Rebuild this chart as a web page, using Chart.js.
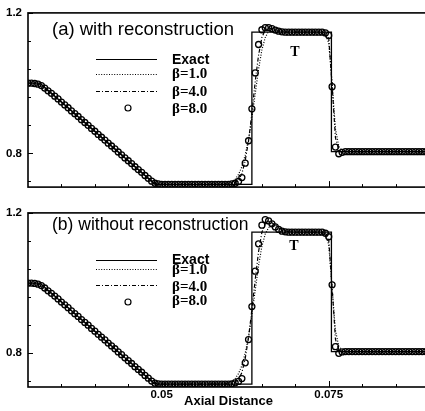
<!DOCTYPE html>
<html>
<head>
<meta charset="utf-8">
<script src="https://cdn.jsdelivr.net/npm/chart.js@4/dist/chart.umd.min.js"></script>
<style>
  html, body { margin: 0; padding: 0; background: #fff; }
  #wrap { position: relative; width: 425px; height: 411px; overflow: hidden; background: #fff; }
  #wrap canvas { position: absolute; left: 0; }
  #panelA { top: 0; }
  #panelB { top: 200px; }
</style>
</head>
<body>
<div id="wrap">
  <canvas id="panelA" width="440" height="200"></canvas>
  <canvas id="panelB" width="440" height="211"></canvas>
</div>
<script>
// Sampling grid of the computed solutions (axial distance)
const gridStart = 0.03;
const gridStep = 0.0005;

// Exact temperature profile (corner points)
const exactX = [0.03, 0.0318, 0.049, 0.0635, 0.0635, 0.0754, 0.0754, 0.09];
const exactT = [1.000, 1.000, 0.712, 0.712, 1.145, 1.145, 0.805, 0.805];

// (a) with reconstruction
const tA_beta1 = [
  1.000,1.000,0.998,0.995,0.990,0.984,0.977,0.970,0.962,0.954,
  0.946,0.938,0.930,0.921,0.913,0.905,0.896,0.888,0.880,0.871,
  0.863,0.854,0.846,0.838,0.829,0.821,0.813,0.804,0.796,0.787,
  0.779,0.771,0.762,0.754,0.746,0.738,0.730,0.723,0.717,0.714,
  0.713,0.712,0.712,0.712,0.712,0.712,0.712,0.712,0.712,0.712,
  0.712,0.712,0.712,0.712,0.712,0.712,0.712,0.712,0.712,0.713,
  0.714,0.718,0.726,0.740,0.762,0.795,0.840,0.900,0.970,1.040,
  1.095,1.130,1.148,1.155,1.155,1.152,1.149,1.147,1.146,1.145,
  1.145,1.145,1.145,1.145,1.145,1.145,1.145,1.145,1.143,1.138,
  1.115,1.000,0.870,0.820,0.808,0.805,0.805,0.805,0.805,0.805,
  0.805,0.805,0.805,0.805,0.805,0.805,0.805,0.805,0.805,0.805,
  0.805,0.805,0.805,0.805,0.805,0.805,0.805,0.805,0.805,0.805,
  0.805
];
const tA_beta4 = [
  1.000,1.000,0.999,0.997,0.993,0.986,0.978,0.971,0.963,0.955,
  0.946,0.938,0.930,0.921,0.913,0.905,0.896,0.888,0.880,0.871,
  0.863,0.854,0.846,0.838,0.829,0.821,0.813,0.804,0.796,0.787,
  0.779,0.771,0.762,0.754,0.746,0.737,0.729,0.721,0.715,0.713,
  0.712,0.712,0.712,0.712,0.712,0.712,0.712,0.712,0.712,0.712,
  0.712,0.712,0.712,0.712,0.712,0.712,0.712,0.712,0.712,0.712,
  0.712,0.713,0.716,0.724,0.742,0.780,0.835,0.915,1.005,1.080,
  1.130,1.152,1.157,1.155,1.151,1.148,1.146,1.145,1.145,1.145,
  1.145,1.145,1.145,1.145,1.145,1.145,1.145,1.145,1.145,1.141,
  1.128,0.995,0.845,0.810,0.805,0.805,0.805,0.805,0.805,0.805,
  0.805,0.805,0.805,0.805,0.805,0.805,0.805,0.805,0.805,0.805,
  0.805,0.805,0.805,0.805,0.805,0.805,0.805,0.805,0.805,0.805,
  0.805
];
const tA_beta8 = [
  1.000,1.000,0.999,0.997,0.993,0.986,0.978,0.971,0.963,0.955,
  0.946,0.938,0.930,0.921,0.913,0.905,0.896,0.888,0.880,0.871,
  0.863,0.854,0.846,0.838,0.829,0.821,0.813,0.804,0.796,0.787,
  0.779,0.771,0.762,0.754,0.746,0.737,0.729,0.721,0.715,0.713,
  0.712,0.712,0.712,0.712,0.712,0.712,0.712,0.712,0.712,0.712,
  0.712,0.712,0.712,0.712,0.712,0.712,0.712,0.712,0.712,0.712,
  0.712,0.713,0.715,0.720,0.731,0.772,0.836,0.927,1.029,1.110,
  1.152,1.158,1.158,1.155,1.151,1.148,1.146,1.145,1.145,1.145,
  1.145,1.145,1.145,1.145,1.145,1.145,1.145,1.145,1.145,1.143,
  1.136,0.990,0.818,0.799,0.803,0.805,0.805,0.805,0.805,0.805,
  0.805,0.805,0.805,0.805,0.805,0.805,0.805,0.805,0.805,0.805,
  0.805,0.805,0.805,0.805,0.805,0.805,0.805,0.805,0.805,0.805,
  0.805
];

// (b) without reconstruction
const tB_beta1 = [
  1.000,1.000,0.998,0.995,0.990,0.984,0.977,0.970,0.962,0.954,
  0.946,0.938,0.930,0.921,0.913,0.905,0.896,0.888,0.880,0.871,
  0.863,0.854,0.846,0.838,0.829,0.821,0.813,0.804,0.796,0.787,
  0.779,0.771,0.762,0.754,0.746,0.738,0.730,0.723,0.717,0.714,
  0.713,0.712,0.712,0.712,0.712,0.712,0.712,0.712,0.712,0.712,
  0.712,0.712,0.712,0.712,0.712,0.712,0.712,0.712,0.712,0.713,
  0.716,0.720,0.728,0.742,0.765,0.800,0.848,0.910,0.980,1.050,
  1.105,1.140,1.158,1.165,1.165,1.160,1.155,1.150,1.147,1.146,
  1.145,1.145,1.145,1.145,1.145,1.145,1.145,1.145,1.143,1.137,
  1.110,0.985,0.865,0.820,0.808,0.805,0.805,0.805,0.805,0.805,
  0.805,0.805,0.805,0.805,0.805,0.805,0.805,0.805,0.805,0.805,
  0.805,0.805,0.805,0.805,0.805,0.805,0.805,0.805,0.805,0.805,
  0.805
];
const tB_beta4 = [
  1.000,1.000,0.999,0.997,0.993,0.986,0.978,0.971,0.963,0.955,
  0.946,0.938,0.930,0.921,0.913,0.905,0.896,0.888,0.880,0.871,
  0.863,0.854,0.846,0.838,0.829,0.821,0.813,0.804,0.796,0.787,
  0.779,0.771,0.762,0.754,0.746,0.737,0.729,0.721,0.715,0.713,
  0.712,0.712,0.712,0.712,0.712,0.712,0.712,0.712,0.712,0.712,
  0.712,0.712,0.712,0.712,0.712,0.712,0.712,0.712,0.712,0.712,
  0.712,0.714,0.718,0.726,0.745,0.785,0.845,0.925,1.010,1.090,
  1.145,1.170,1.176,1.172,1.165,1.158,1.152,1.148,1.146,1.145,
  1.145,1.145,1.145,1.145,1.145,1.145,1.145,1.145,1.145,1.140,
  1.122,0.990,0.840,0.810,0.805,0.805,0.805,0.805,0.805,0.805,
  0.805,0.805,0.805,0.805,0.805,0.805,0.805,0.805,0.805,0.805,
  0.805,0.805,0.805,0.805,0.805,0.805,0.805,0.805,0.805,0.805,
  0.805
];
const tB_beta8 = [
  1.000,1.000,0.999,0.997,0.993,0.986,0.978,0.971,0.963,0.955,
  0.946,0.938,0.930,0.921,0.913,0.905,0.896,0.888,0.880,0.871,
  0.863,0.854,0.846,0.838,0.829,0.821,0.813,0.804,0.796,0.787,
  0.779,0.771,0.762,0.754,0.746,0.737,0.729,0.721,0.715,0.713,
  0.712,0.712,0.712,0.712,0.712,0.712,0.712,0.712,0.712,0.712,
  0.712,0.712,0.712,0.712,0.712,0.712,0.712,0.712,0.712,0.712,
  0.712,0.713,0.716,0.720,0.728,0.773,0.839,0.933,1.034,1.112,
  1.165,1.181,1.177,1.169,1.160,1.153,1.148,1.146,1.145,1.145,
  1.145,1.145,1.145,1.145,1.145,1.145,1.145,1.145,1.145,1.142,
  1.132,0.995,0.819,0.800,0.804,0.805,0.805,0.805,0.805,0.805,
  0.805,0.805,0.805,0.805,0.805,0.805,0.805,0.805,0.805,0.805,
  0.805,0.805,0.805,0.805,0.805,0.805,0.805,0.805,0.805,0.805,
  0.805
];

// Axis ticks
const yTicks = [0.72, 0.80, 0.88, 0.96, 1.04, 1.12, 1.20];
const yLabelTicks = [0.8, 1.2];
const xTicks = [0.035, 0.04, 0.045, 0.05, 0.055, 0.06, 0.065, 0.07, 0.075, 0.08, 0.085];
const xLabelTicks = [0.05, 0.075];

const seriesNames = ['Exact', 'β=1.0', 'β=4.0', 'β=8.0'];
const panelTitles = ['(a) with reconstruction', '(b) without reconstruction'];
const xTitle = 'Axial Distance';
const curveLabel = 'T';

const SANS = '"Liberation Sans", Arial, sans-serif';
const SERIF = '"Liberation Serif", "Times New Roman", serif';
const DOT = [1, 1.6];
const DASHDOT = [4, 2, 1, 2];

Chart.defaults.font.family = SANS;
Chart.defaults.color = '#000';

function gridPoints(vals) {
  return vals.map((v, i) => ({ x: gridStart + i * gridStep, y: v }));
}
function exactPoints() {
  return exactX.map((x, i) => ({ x: x, y: exactT[i] }));
}
const isOneOf = (v, list) => list.some(t => Math.abs(t - v) < 1e-9);

// Frame, inward ticks, panel caption, curve label and legend
function decorPlugin(o) {
  return {
    id: 'decor',
    afterDatasetsDraw(chart) {
      const { ctx, chartArea: a, scales } = chart;
      const xs = scales.x, ys = scales.y;
      ctx.save();
      ctx.strokeStyle = '#000';
      ctx.fillStyle = '#000';

      // inward tick marks
      ctx.lineWidth = 1;
      ctx.beginPath();
      yTicks.forEach(v => {
        const py = Math.round(ys.getPixelForValue(v)) + 0.5;
        const len = isOneOf(v, yLabelTicks) ? 5 : 3;
        ctx.moveTo(a.left, py); ctx.lineTo(a.left + len, py);
      });
      xTicks.forEach(v => {
        const px = Math.round(xs.getPixelForValue(v)) + 0.5;
        const len = isOneOf(v, xLabelTicks) ? 6 : 3;
        ctx.moveTo(px, a.bottom); ctx.lineTo(px, a.bottom - len);
      });
      ctx.stroke();

      // frame
      ctx.lineWidth = 1.6;
      ctx.strokeRect(a.left, a.top, a.right - a.left, a.bottom - a.top);

      // panel caption
      ctx.font = o.titleSize + 'px ' + SANS;
      ctx.textAlign = 'left';
      ctx.textBaseline = 'alphabetic';
      ctx.fillText(o.title, 52, o.titleY);

      // curve label
      ctx.font = 'bold 14px ' + SERIF;
      ctx.textAlign = 'center';
      ctx.textBaseline = 'middle';
      ctx.fillText(curveLabel, o.tX, o.tY);

      // legend
      const x0 = 96, x1 = 157, tx = 172;
      ctx.lineWidth = 1.2;
      const styles = [[], DOT, DASHDOT];
      for (let k = 0; k < 3; k++) {
        ctx.setLineDash(styles[k]);
        ctx.beginPath();
        ctx.moveTo(x0, o.lineY[k] + 0.5); ctx.lineTo(x1, o.lineY[k] + 0.5);
        ctx.stroke();
      }
      ctx.setLineDash([]);
      ctx.lineWidth = 1.2;
      ctx.beginPath();
      ctx.arc(128, o.lineY[3], 3, 0, Math.PI * 2);
      ctx.stroke();

      ctx.textAlign = 'left';
      ctx.textBaseline = 'middle';
      ctx.font = 'bold 14px ' + SANS;
      ctx.fillText(seriesNames[0], tx, o.textY[0]);
      ctx.font = 'bold 15px ' + SERIF;
      for (let k = 1; k < 4; k++) ctx.fillText(seriesNames[k], tx, o.textY[k]);

      ctx.restore();
    }
  };
}

function makePanel(canvasId, b1, b4, b8, o) {
  const xScale = {
    type: 'linear', min: 0.03, max: 0.09,
    grid: { display: false, drawTicks: false },
    border: { display: false }
  };
  if (o.showX) {
    Object.assign(xScale, {
      display: true,
      afterBuildTicks: s => { s.ticks = xLabelTicks.map(v => ({ value: v })); },
      afterFit: s => { s.height = 24; },
      ticks: {
        autoSkip: false, maxRotation: 0, padding: 1,
        font: { size: 11.5, weight: 'bold', family: SANS },
        callback: v => String(v)
      },
      title: {
        display: true, text: xTitle,
        font: { size: 13, weight: 'bold', family: SANS, lineHeight: 1.2 },
        padding: { top: 0, bottom: 2 }
      }
    });
  } else {
    xScale.display = false;
  }

  return new Chart(document.getElementById(canvasId), {
    type: 'line',
    data: {
      datasets: [
        { label: seriesNames[0], data: exactPoints(), borderColor: '#000', borderWidth: 1.3,
          pointRadius: 0, tension: 0, order: 4 },
        { label: seriesNames[1], data: gridPoints(b1), borderColor: '#000', borderWidth: 1.2,
          borderDash: DOT, pointRadius: 0, tension: 0, order: 3 },
        { label: seriesNames[2], data: gridPoints(b4), borderColor: '#000', borderWidth: 1.2,
          borderDash: DASHDOT, pointRadius: 0, tension: 0, order: 2 },
        { label: seriesNames[3], data: gridPoints(b8), showLine: false, pointRadius: 3,
          pointBorderWidth: 1.3, pointBorderColor: '#000', pointBackgroundColor: 'rgba(255,255,255,0)',
          borderColor: '#000', order: 1 }
      ]
    },
    options: {
      responsive: false,
      animation: false,
      events: [],
      layout: { padding: o.padding },
      plugins: { legend: { display: false }, tooltip: { enabled: false } },
      scales: {
        x: xScale,
        y: {
          type: 'linear', min: 0.704, max: 1.2,
          afterBuildTicks: s => { s.ticks = yLabelTicks.map(v => ({ value: v })); },
          afterFit: s => { s.width = 28; },
          grid: { display: false, drawTicks: false },
          border: { display: false },
          ticks: {
            padding: 6,
            font: { size: 11.5, weight: 'bold', family: SANS },
            callback: v => v.toFixed(1)
          }
        }
      }
    },
    plugins: [decorPlugin(o)]
  });
}

makePanel('panelA', tA_beta1, tA_beta4, tA_beta8, {
  showX: false,
  padding: { left: 0, top: 12, right: 11, bottom: 7 },
  title: panelTitles[0], titleSize: 18.5, titleY: 35,
  tX: 295, tY: 52,
  lineY: [59, 74, 91, 108],
  textY: [60, 74, 92.5, 109]
});

makePanel('panelB', tB_beta1, tB_beta4, tB_beta8, {
  showX: true,
  padding: { left: 0, top: 5, right: 11, bottom: 0 },
  title: panelTitles[1], titleSize: 17.5, titleY: 29.5,
  tX: 294, tY: 46,
  lineY: [60, 69, 85, 102],
  textY: [60, 70.5, 87, 101.5]
});
</script>
</body>
</html>
